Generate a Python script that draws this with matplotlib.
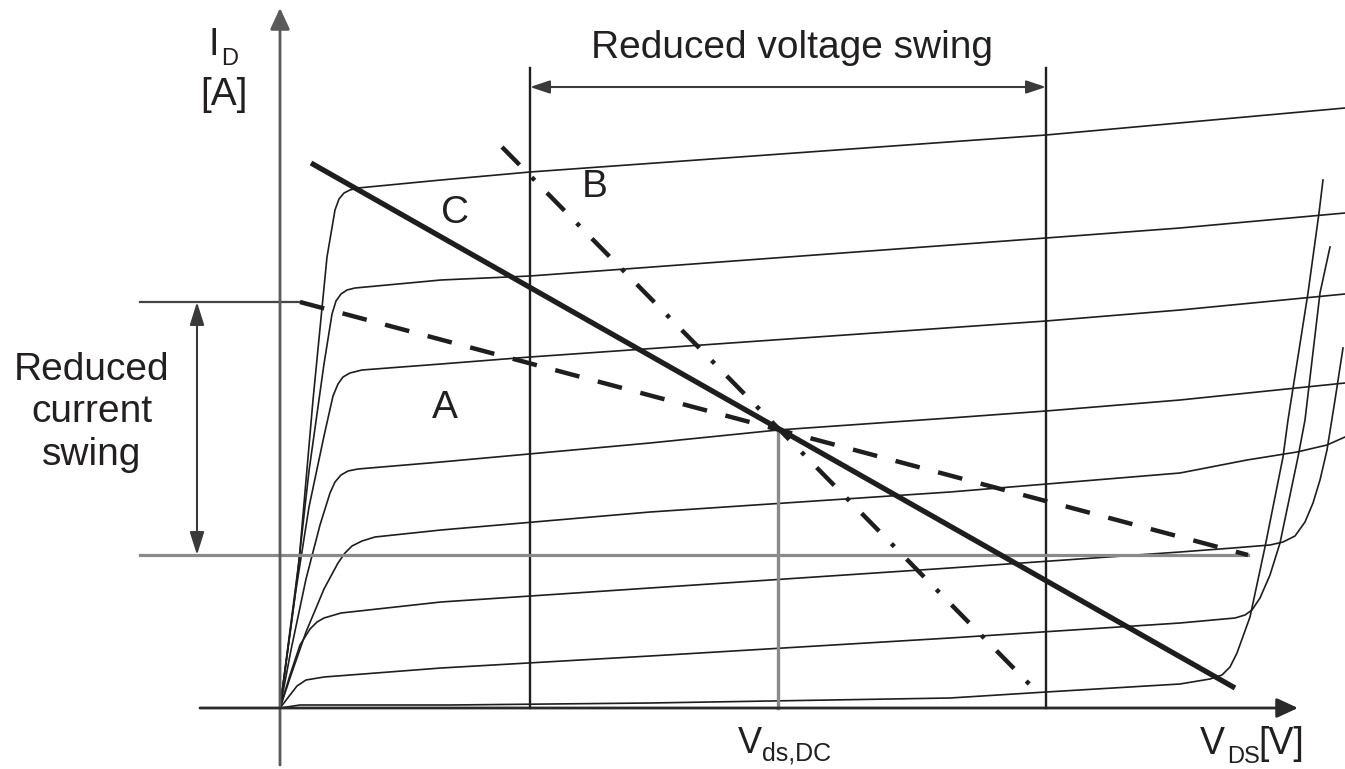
import numpy as np
import matplotlib.pyplot as plt

plt.rcParams['font.family'] = ['Liberation Sans', 'DejaVu Sans']
plt.rcParams['lines.scale_dashes'] = False

# output characteristics I_D(V_DS), one per gate voltage (top to bottom)
vds_1 = [0, 0.19, 0.33, 0.47, 0.55, 0.59, 0.64, 0.70, 0.78, 1.61, 2.50, 7.66, 10.65]
id_1 = [0, 1.47, 3.08, 4.51, 4.98, 5.09, 5.15, 5.18, 5.20, 5.28, 5.36, 5.73, 6.00]

vds_2 = [0, 0.15, 0.29, 0.44, 0.52, 0.56, 0.61, 0.67, 0.75, 1.61, 2.50, 7.66, 9.00, 10.65]
id_2 = [0, 1.12, 2.37, 3.44, 3.94, 4.07, 4.14, 4.18, 4.20, 4.28, 4.32, 4.70, 4.80, 4.95]

vds_3 = [0, 0.15, 0.29, 0.44, 0.53, 0.58, 0.63, 0.70, 0.82, 1.61, 2.50, 7.66, 9.00, 10.65]
id_3 = [0, 1.12, 2.01, 2.72, 3.12, 3.24, 3.31, 3.35, 3.38, 3.44, 3.51, 3.87, 3.98, 4.14]

vds_4 = [0, 0.11, 0.26, 0.40, 0.50, 0.55, 0.61, 0.68, 0.78, 1.61, 3.70, 4.98, 6.70, 7.66,
         9.00, 10.65]
id_4 = [0, 0.58, 1.29, 1.83, 2.15, 2.26, 2.33, 2.37, 2.39, 2.46, 2.65, 2.78, 2.90, 2.97,
        3.08, 3.25]

vds_5 = [0, 0.11, 0.26, 0.44, 0.58, 0.65, 0.72, 0.82, 0.95, 1.61, 3.70, 6.70, 9.00, 9.67,
         10.17, 10.47, 10.65]
id_5 = [0, 0.33, 0.76, 1.19, 1.45, 1.55, 1.62, 1.67, 1.71, 1.78, 1.96, 2.16, 2.35, 2.48,
        2.56, 2.63, 2.71]

vds_6 = [0, 0.10, 0.20, 0.30, 0.37, 0.44, 0.61, 1.61, 3.70, 6.70, 9.00, 9.53, 9.90, 10.03,
         10.15, 10.25, 10.33, 10.40, 10.47, 10.55, 10.63]
id_6 = [0, 0.33, 0.63, 0.79, 0.86, 0.90, 0.95, 1.06, 1.20, 1.40, 1.56, 1.60, 1.63, 1.66,
        1.72, 1.86, 2.05, 2.28, 2.58, 3.08, 3.60]

vds_7 = [0, 0.10, 0.17, 0.26, 0.44, 1.61, 3.70, 6.70, 9.00, 9.55, 9.65, 9.72, 9.80, 9.90,
         10.00, 10.18, 10.25, 10.40, 10.50]
id_7 = [0, 0.13, 0.22, 0.28, 0.31, 0.40, 0.52, 0.70, 0.85, 0.90, 0.93, 0.98, 1.10, 1.33,
        1.65, 2.51, 2.88, 4.15, 4.61]

vds_8 = [0, 0.20, 1.70, 3.70, 6.70, 7.66, 9.00, 9.30, 9.42, 9.50, 9.57, 9.70, 9.85, 10.03,
         10.08, 10.28, 10.39, 10.43]
id_8 = [0, 0.03, 0.03, 0.05, 0.10, 0.16, 0.24, 0.29, 0.33, 0.41, 0.55, 0.91, 1.61, 2.51,
        2.88, 4.15, 4.95, 5.28]

curves = [(vds_1, id_1), (vds_2, id_2), (vds_3, id_3), (vds_4, id_4),
          (vds_5, id_5), (vds_6, id_6), (vds_7, id_7), (vds_8, id_8)]

# DC operating point and the three load lines through it
q_vds, q_id = 4.98, 2.78
load_c_vds, load_c_id = [0.31, 9.55], [5.45, 0.20]
load_a_vds, load_a_id = [0.20, 9.68], [4.06, 1.53]
load_b_vds, load_b_id = [2.22, 7.60], [5.61, 0.13]

# swing limits
swing_v = [2.50, 7.66]
swing_i = [1.53, 4.06]

ink = '#1e1e1e'

fig = plt.figure(figsize=(13.45, 7.69), dpi=100)
ax = fig.add_axes([0, 0, 1, 1])
ax.set_xlim(-2.80, 10.65)
ax.set_ylim(-0.61, 7.08)
ax.axis('off')

# axes with arrows
arrow_axis = dict(arrowstyle='-|>,head_length=0.65,head_width=0.3', mutation_scale=20,
                  shrinkA=0, shrinkB=0)
ax.annotate('', xy=(0, 7.00), xytext=(0, -0.57),
            arrowprops=dict(lw=2.0, color='#5a5a5a', **arrow_axis))
ax.annotate('', xy=(10.18, 0), xytext=(-0.80, 0),
            arrowprops=dict(lw=2.0, color='#2a2a2a', **arrow_axis))

# characteristic curves
for v, i in curves:
    ax.plot(v, i, color=ink, lw=1.2, solid_joinstyle='round')

# voltage swing
for v in swing_v:
    ax.plot([v, v], [0, 6.40], color=ink, lw=1.7)
ax.annotate('', xy=(swing_v[0], 6.21), xytext=(swing_v[1], 6.21),
            arrowprops=dict(arrowstyle='<|-|>,head_length=0.6,head_width=0.2',
                            mutation_scale=20, lw=1.5, color='#3a3a3a',
                            shrinkA=0, shrinkB=0))

# current swing
ax.plot([-1.40, load_a_vds[0]], [swing_i[1], swing_i[1]], color='#444444', lw=1.6)
ax.plot([-1.40, load_a_vds[1]], [swing_i[0], swing_i[0]], color='#8a8a8a', lw=2.3)
ax.annotate('', xy=(-0.83, swing_i[1]), xytext=(-0.83, swing_i[0]),
            arrowprops=dict(arrowstyle='<|-|>,head_length=0.7,head_width=0.22',
                            mutation_scale=20, lw=1.5, color='#3a3a3a',
                            shrinkA=0, shrinkB=0))

# Vds,DC marker
ax.plot([q_vds, q_vds], [0, q_id], color='#8a8a8a', lw=2.4)

# load lines
ax.plot(load_c_vds, load_c_id, color=ink, lw=3.8, solid_capstyle='butt')
ax.plot(load_a_vds, load_a_id, color=ink, lw=3.2, dashes=(18, 13.7))
ax.plot(load_b_vds, load_b_id, color=ink, lw=3.2, dashes=(18, 12.6, 3, 12.6))

tc = '#231f20'
ax.text(5.12, 6.50, 'Reduced voltage swing', fontsize=28, color=tc, ha='center', va='baseline')
for y, s in zip([3.28, 2.86, 2.43], ['Reduced', 'current', 'swing']):
    ax.text(-1.88, y, s, fontsize=28, color=tc, ha='center', va='baseline')
ax.text(1.75, 4.85, 'C', fontsize=28, color=tc, ha='center', va='baseline')
ax.text(3.15, 5.11, 'B', fontsize=28, color=tc, ha='center', va='baseline')
ax.text(1.65, 2.90, 'A', fontsize=28, color=tc, ha='center', va='baseline')

ax.text(-0.715, 6.53, 'I', fontsize=27, color=tc, ha='left', va='baseline')
ax.text(-0.59, 6.43, 'D', fontsize=17, color=tc, ha='left', va='baseline')
ax.text(-0.565, 6.03, '[A]', fontsize=28, color=tc, ha='center', va='baseline')

ax.text(4.58, -0.45, 'V', fontsize=26, color=tc, ha='left', va='baseline')
ax.text(4.82, -0.53, 'ds,DC', fontsize=18, color=tc, ha='left', va='baseline')

ax.text(9.20, -0.46, 'V', fontsize=27, color=tc, ha='left', va='baseline')
ax.text(9.47, -0.55, 'DS', fontsize=17, color=tc, ha='left', va='baseline')
ax.text(9.78, -0.46, '[V]', fontsize=27, color=tc, ha='left', va='baseline')

fig.savefig('out.png', dpi=100)
